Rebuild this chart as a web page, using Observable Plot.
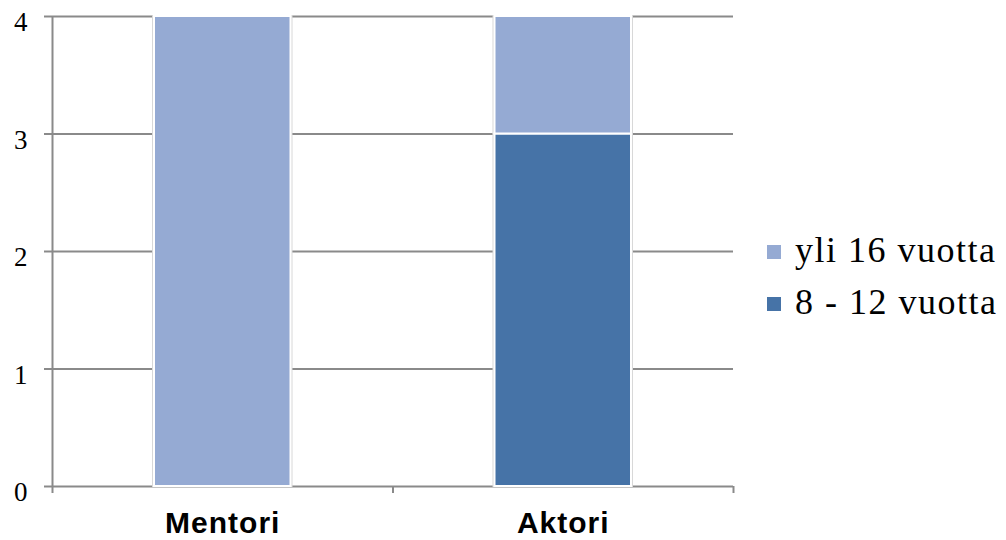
<!DOCTYPE html>
<html>
<head>
<meta charset="utf-8">
<script src="https://cdn.jsdelivr.net/npm/d3@7"></script>
<script src="https://cdn.jsdelivr.net/npm/@observablehq/plot@0.6"></script>
<style>
  html, body { margin: 0; padding: 0; background: #fff; }
  #wrap { position: relative; width: 1006px; height: 540px; }
  #legend { position: absolute; left: 767px; top: 224px; font-family: "Liberation Serif", serif; font-size: 36px; letter-spacing: 1.5px; color: #000; }
  #legend .row { display: flex; align-items: center; height: 52px; }
  #legend .sw { width: 14px; height: 14px; margin-right: 14px; margin-top: 4px; }
  #chart .xlab text { letter-spacing: 1px; }
</style>
</head>
<body>
<div id="wrap"><div id="chart"></div><div id="legend"></div></div>
<script>
// Categories and the two stacked series
const categories = ["Mentori", "Aktori"];
const seriesNames = ["8 - 12 vuotta", "yli 16 vuotta"];
const values8to12 = [0, 3];
const valuesOver16 = [4, 1];
const seriesColors = ["#4673a7", "#95aad3"];
const yTicks = [0, 1, 2, 3, 4];

// Long table: position index per category, stacked bottom-up in series order
const rows = [];
seriesNames.forEach((s, si) => {
  const vals = si === 0 ? values8to12 : valuesOver16;
  categories.forEach((c, ci) => rows.push({pos: ci, category: c, series: s, value: vals[ci]}));
});

const gray = "#8a8a8a";
const barInset = 102;

const chart = Plot.plot({
  width: 1006,
  height: 540,
  marginLeft: 52,
  marginRight: 273,
  marginTop: 16,
  marginBottom: 54,
  x: {domain: [0, categories.length], axis: null, label: null},
  y: {domain: [0, 4], axis: null, label: null},
  color: {domain: seriesNames, range: seriesColors},
  marks: [
    // horizontal gridlines
    Plot.ruleY(yTicks, {stroke: gray, strokeWidth: 2}),
    // left axis line
    Plot.ruleX([0], {stroke: gray, strokeWidth: 2}),
    // y ticks
    Plot.axisY({
      ticks: yTicks, tickSize: 8, stroke: gray, strokeWidth: 2, label: null, tickFormat: () => ""
    }),
    // y tick labels, sitting a little below their gridlines
    Plot.text(yTicks, {
      y: (d) => d, text: (d) => String(d), frameAnchor: "left", textAnchor: "end",
      dx: -25, dy: 6, fill: "#000", fontSize: 27, fontFamily: "Liberation Serif"
    }),
    // category boundary ticks
    Plot.axisX({
      ticks: d3.range(categories.length + 1), tickSize: 7, stroke: gray, strokeWidth: 2,
      tickFormat: () => "", label: null
    }),
    // category labels
    Plot.text(categories, {
      x: (d, i) => i + 0.5, text: (d) => d, frameAnchor: "bottom", lineAnchor: "middle", dy: 37,
      fill: "#000", fontSize: 30, fontWeight: "bold", fontFamily: "Liberation Sans", className: "xlab"
    }),
    // faint outer edge of the bars
    Plot.rectY(rows, {
      x: "pos", y: "value", interval: 1, fill: "series",
      insetLeft: barInset - 1, insetRight: barInset - 1, stroke: "#d8d8d8", strokeWidth: 2
    }),
    // stacked bars
    Plot.rectY(rows, {
      x: "pos", y: "value", interval: 1, fill: "series",
      insetLeft: barInset, insetRight: barInset, stroke: "#fff", strokeWidth: 2
    })
  ]
});
document.getElementById("chart").appendChild(chart);

// Legend listed top-down in reverse stacking order
const legend = document.getElementById("legend");
[...seriesNames].reverse().forEach((s) => {
  const row = document.createElement("div");
  row.className = "row";
  const sw = document.createElement("div");
  sw.className = "sw";
  sw.style.background = seriesColors[seriesNames.indexOf(s)];
  const label = document.createElement("span");
  label.textContent = s;
  row.appendChild(sw);
  row.appendChild(label);
  legend.appendChild(row);
});
</script>
</body>
</html>
